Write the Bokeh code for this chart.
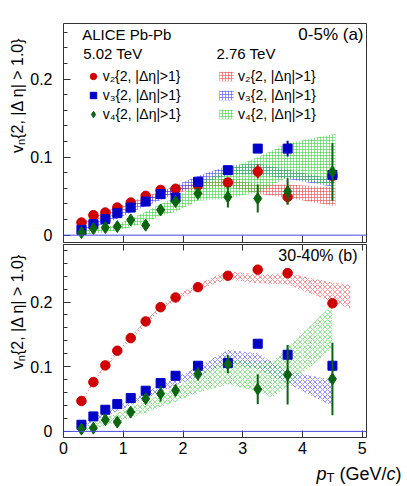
import math
from bokeh.plotting import figure
from bokeh.models import Range1d, FixedTicker, LinearAxis, Label, Legend, LegendItem, Span
from bokeh.layouts import column, row
from bokeh.embed import file_html
from bokeh.resources import INLINE

# ---------------- data ----------------
pt = [0.3, 0.5, 0.7, 0.9, 1.125, 1.375, 1.625, 1.875, 2.25, 2.75, 3.25, 3.75, 4.5]

# panel (a): 0-5 %, Pb-Pb 5.02 TeV
v2_a = [0.0162, 0.0256, 0.029, 0.0354, 0.0418, 0.0504, 0.058, 0.0595, 0.064, 0.0675, 0.0816, 0.049, 0.076]
v2_a_err = [0.001, 0.001, 0.001, 0.001, 0.001, 0.001, 0.001, 0.001, 0.002, 0.003, 0.009, 0.009, 0.010]
v3_a = [0.0068, 0.0141, 0.0205, 0.0282, 0.0354, 0.0431, 0.0526, 0.0482, 0.0685, 0.0833, 0.111, 0.111, 0.0773]
v3_a_err = [0.001, 0.001, 0.001, 0.001, 0.001, 0.001, 0.001, 0.002, 0.002, 0.005, 0.004, 0.010, 0.006]
v4_a = [0.0033, 0.0085, 0.0098, 0.011, 0.0196, 0.0128, 0.0324, 0.0431, 0.0534, 0.049, 0.047, 0.056, 0.081]
v4_a_err = [0.002, 0.002, 0.002, 0.002, 0.003, 0.003, 0.004, 0.005, 0.006, 0.0135, 0.018, 0.017, 0.037]

# panel (a): 2.76 TeV bands
band_a_x = [0.3, 0.5, 0.7, 0.9, 1.125, 1.375, 1.625, 1.875, 2.25, 2.75, 3.25, 3.75, 4.55]
band_a_x3 = [0.3, 0.5, 0.7, 0.9, 1.125, 1.375, 1.625, 1.875, 2.25, 2.75, 3.25, 3.75, 4.5]
v2_a_lo = [0.011, 0.018, 0.023, 0.029, 0.035, 0.042, 0.048, 0.054, 0.059, 0.063, 0.053, 0.048, 0.037]
v2_a_hi = [0.017, 0.024, 0.030, 0.036, 0.043, 0.050, 0.056, 0.062, 0.067, 0.073, 0.065, 0.065, 0.061]
v3_a_lo = [0.004, 0.009, 0.015, 0.021, 0.029, 0.037, 0.045, 0.054, 0.064, 0.077, 0.078, 0.072, 0.062]
v3_a_hi = [0.010, 0.016, 0.022, 0.029, 0.037, 0.046, 0.055, 0.064, 0.076, 0.089, 0.092, 0.084, 0.072]
v4_a_lo = [0.000, 0.002, 0.004, 0.006, 0.010, 0.016, 0.025, 0.030, 0.044, 0.047, 0.055, 0.074, 0.063]
v4_a_hi = [0.005, 0.008, 0.010, 0.014, 0.021, 0.030, 0.040, 0.048, 0.066, 0.085, 0.100, 0.118, 0.130]

# panel (b): 30-40 %, Pb-Pb 5.02 TeV
v2_b = [0.0470, 0.0762, 0.102, 0.1247, 0.1442, 0.170, 0.192, 0.207, 0.223, 0.2406, 0.250, 0.2447, 0.198]
v2_b_err = [0.001, 0.001, 0.001, 0.001, 0.001, 0.001, 0.001, 0.001, 0.002, 0.002, 0.003, 0.008, 0.005]
v3_b = [0.0103, 0.0232, 0.0335, 0.0422, 0.0515, 0.0629, 0.0747, 0.086, 0.1015, 0.1056, 0.1355, 0.1185, 0.1015]
v3_b_err = [0.001, 0.001, 0.001, 0.001, 0.001, 0.001, 0.002, 0.002, 0.002, 0.004, 0.005, 0.008, 0.008]
v4_b = [0.0036, 0.0051, 0.018, 0.0144, 0.0299, 0.0505, 0.0582, 0.0634, 0.0886, 0.104, 0.0654, 0.0876, 0.081]
v4_b_err = [0.003, 0.003, 0.004, 0.004, 0.005, 0.006, 0.012, 0.009, 0.010, 0.014, 0.023, 0.046, 0.056]

# panel (b): 2.76 TeV bands
band_b_x2 = [0.3, 0.5, 0.7, 0.9, 1.125, 1.375, 1.625, 1.875, 2.25, 2.75, 3.25, 3.75, 4.5, 4.8]
v2_b_lo = [0.044, 0.073, 0.098, 0.120, 0.140, 0.165, 0.187, 0.202, 0.219, 0.235, 0.229, 0.227, 0.200, 0.190]
v2_b_hi = [0.049, 0.078, 0.104, 0.126, 0.146, 0.172, 0.194, 0.210, 0.228, 0.248, 0.242, 0.245, 0.230, 0.227]
band_b_x3 = [0.3, 0.5, 0.7, 0.9, 1.125, 1.375, 1.625, 1.875, 2.25, 2.75, 3.25, 3.75, 4.5]
v3_b_lo = [0.006, 0.015, 0.024, 0.031, 0.040, 0.051, 0.061, 0.071, 0.085, 0.105, 0.097, 0.074, 0.039]
v3_b_hi = [0.012, 0.021, 0.031, 0.039, 0.049, 0.061, 0.072, 0.083, 0.100, 0.126, 0.121, 0.093, 0.080]
band_b_x4 = [0.3, 0.5, 0.7, 0.9, 1.125, 1.375, 1.625, 1.875, 2.25, 2.75, 3.25, 3.5, 4.5]
v4_b_lo = [0.000, 0.003, 0.009, 0.014, 0.021, 0.029, 0.038, 0.046, 0.060, 0.072, 0.062, 0.052, 0.128]
v4_b_hi = [0.006, 0.013, 0.021, 0.028, 0.038, 0.047, 0.057, 0.067, 0.088, 0.112, 0.106, 0.108, 0.196]

x_ticks = [0, 1, 2, 3, 4, 5]
y_ticks = [0, 0.1, 0.2]
y_tick_labels = {0: "0", 0.1: "0.1", 0.2: "0.2"}
y_minor = [0.02, 0.04, 0.06, 0.08, 0.12, 0.14, 0.16, 0.18, 0.22, 0.24, 0.26, 0.28]

leg_labels = ["v\u2082{2, |\u0394\u03b7|>1}", "v\u2083{2, |\u0394\u03b7|>1}", "v\u2084{2, |\u0394\u03b7|>1}"]

# ---------------- styling / layout constants ----------------
FONT = "Liberation Sans"
RED, BLUE, GREEN = "#d10000", "#0000c8", "#0a6410"
HRED, HBLUE, HGREEN = "#e83a3a", "#3a3aff", "#2fcf2f"
YLAB_W = 27          # width of the strip holding the rotated y titles
FRAME_L = 62         # page x of the frame's left edge
TOTAL_H = 486        # page height used
A_TOP, A_FRAME, A_BOT = 23, 219, 2
B_TOP, B_FRAME, B_BOT = 0, 193, 24


def make_panel(frame_h, y_end, b_top, b_bottom, top_axis, bottom_labels):
    p = figure(frame_width=303, frame_height=frame_h,
               x_range=Range1d(0, 5.07), y_range=Range1d(-0.0094, y_end),
               output_backend="svg", toolbar_location=None,
               x_axis_location=None, y_axis_location=None,
               min_border_left=FRAME_L - YLAB_W, min_border_right=40,
               min_border_top=b_top, min_border_bottom=b_bottom)
    p.grid.visible = False
    p.outline_line_color = "#333333"
    p.outline_line_width = 1
    p.background_fill_color = "white"
    p.border_fill_color = "white"

    yax = LinearAxis(ticker=FixedTicker(ticks=y_ticks, minor_ticks=y_minor),
                     major_label_overrides=y_tick_labels)
    yax.axis_line_color = None
    yax.major_tick_in = 7
    yax.major_tick_out = 0
    yax.minor_tick_in = 4
    yax.minor_tick_out = 0
    yax.major_tick_line_color = "#333333"
    yax.minor_tick_line_color = "#333333"
    yax.major_label_text_font = FONT
    yax.major_label_text_font_size = "16px"
    yax.major_label_text_color = "black"
    yax.major_label_standoff = 11
    p.add_layout(yax, "left")

    xax = LinearAxis(ticker=FixedTicker(ticks=x_ticks))
    xax.axis_line_color = None
    xax.major_tick_in = 7
    xax.major_tick_out = 0
    xax.minor_tick_in = 0
    xax.minor_tick_out = 0
    xax.major_tick_line_color = "#333333"
    xax.major_label_text_font = FONT
    if bottom_labels:
        xax.major_label_text_font_size = "16px"
        xax.major_label_text_color = "black"
        xax.major_label_standoff = 4
    else:
        xax.major_label_text_color = None
        xax.major_label_standoff = 0
    p.add_layout(xax, "below")

    if top_axis:
        xat = LinearAxis(ticker=FixedTicker(ticks=x_ticks))
        xat.axis_line_color = None
        xat.major_tick_in = 6
        xat.major_tick_out = 0
        xat.minor_tick_in = 0
        xat.minor_tick_out = 0
        xat.major_tick_line_color = "#333333"
        xat.major_label_text_color = None
        xat.major_label_standoff = 0
        p.add_layout(xat, "above")

    p.add_layout(Span(location=0, dimension="width", line_color="#4a4ae0", line_width=1))
    return p


def strip(width, height):
    s = figure(frame_width=width, frame_height=height, x_range=Range1d(0, 1), y_range=Range1d(0, 1),
               output_backend="svg", toolbar_location=None,
               x_axis_location=None, y_axis_location=None,
               min_border_left=0, min_border_right=0, min_border_top=0, min_border_bottom=0)
    s.grid.visible = False
    s.outline_line_color = None
    s.background_fill_color = "white"
    s.border_fill_color = "white"
    return s


def bands(p, specs, pattern, scale):
    rs = []
    for x, lo, hi, col in specs:
        r = p.varea(x=x, y1=lo, y2=hi, fill_color=None, fill_alpha=0,
                    hatch_pattern=pattern, hatch_color=col, hatch_alpha=0.55,
                    hatch_scale=scale, hatch_weight=1)
        rs.append(r)
    return rs


def points(p, specs):
    rs = []
    for y, err, marker, size, col in specs:
        lo = [a - e for a, e in zip(y, err)]
        hi = [a + e for a, e in zip(y, err)]
        p.segment(x0=pt, y0=lo, x1=pt, y1=hi, line_color=col, line_width=2)
        r = p.scatter(x=pt, y=y, marker=marker, size=size, fill_color=col, line_color=col)
        rs.append(r)
    return rs


def lab(p, x0, y0, text, xr, yr, size, align="left", baseline="middle", angle=0.0, style="normal"):
    # (x0, y0): page position of the bottom-left corner of the figure's frame
    p.add_layout(Label(x=xr - x0, y=y0 - yr, x_units="screen", y_units="screen",
                       text=text, text_font=FONT, text_font_size=f"{size}px",
                       text_align=align, text_baseline=baseline, angle=angle,
                       text_font_style=style, text_color="black"))


def legend(p, renderers, labels, vx, vy, gw, gh, standoff):
    items = [LegendItem(label=t, renderers=[r]) for t, r in zip(labels, renderers)]
    leg = Legend(items=items, location=(vx, vy), orientation="vertical",
                 background_fill_alpha=0, border_line_alpha=0, padding=0, margin=0,
                 spacing=3, glyph_width=gw, glyph_height=gh, label_height=16,
                 label_standoff=standoff, label_text_font=FONT, label_text_font_size="14px",
                 label_text_baseline="middle", label_text_color="black")
    p.add_layout(leg)


# ---------------- panel (a) ----------------
FB_A = A_TOP + A_FRAME
pa = make_panel(A_FRAME, 0.2714, A_TOP, A_BOT, top_axis=False, bottom_labels=False)
ba = bands(pa, [(band_a_x, v2_a_lo, v2_a_hi, HRED), (band_a_x3, v3_a_lo, v3_a_hi, HBLUE),
                (band_a_x, v4_a_lo, v4_a_hi, HGREEN)], "+", 3)
ra = points(pa, [(v2_a, v2_a_err, "circle", 9.5, RED), (v3_a, v3_a_err, "square", 9, BLUE),
                 (v4_a, v4_a_err, "diamond", 12, GREEN)])
lab(pa, FRAME_L, FB_A, "ALICE Pb-Pb", 80.7, 33.5, 15)
lab(pa, FRAME_L, FB_A, "0-5% (a)", 362, 33.5, 17, align="right")
lab(pa, FRAME_L, FB_A, "5.02 TeV", 81.7, 52.5, 15)
lab(pa, FRAME_L, FB_A, "2.76 TeV", 215, 52.5, 15)
legend(pa, ra, leg_labels, 82.7 - FRAME_L, FB_A - 122, 18, 16, 1)
legend(pa, ba, leg_labels, 216 - FRAME_L, FB_A - 122, 18, 12, 3)

# ---------------- panel (b) ----------------
FB_B = A_TOP + A_FRAME + A_BOT + B_TOP + B_FRAME
pb = make_panel(B_FRAME, 0.2889, B_TOP, B_BOT, top_axis=True, bottom_labels=True)
bands(pb, [(band_b_x2, v2_b_lo, v2_b_hi, HRED), (band_b_x3, v3_b_lo, v3_b_hi, HBLUE),
           (band_b_x4, v4_b_lo, v4_b_hi, HGREEN)], "x", 5)
points(pb, [(v2_b, v2_b_err, "circle", 9.5, RED), (v3_b, v3_b_err, "square", 9, BLUE),
            (v4_b, v4_b_err, "diamond", 12, GREEN)])
lab(pb, FRAME_L, FB_B, "30-40% (b)", 356, 255, 16, align="right")

# ---------------- x title strip: p_T (GeV/c) ----------------
XLAB_H = TOTAL_H - (A_TOP + A_FRAME + A_BOT) - (B_TOP + B_FRAME + B_BOT)
xs = strip(FRAME_L - YLAB_W + 303 + 40, XLAB_H)
lab(xs, YLAB_W, TOTAL_H, "p", 280, 473, 18, baseline="alphabetic", style="italic")
lab(xs, YLAB_W, TOTAL_H, "T", 290, 477, 13, baseline="alphabetic")
lab(xs, YLAB_W, TOTAL_H, "(GeV/", 303, 473, 18, baseline="alphabetic")
lab(xs, YLAB_W, TOTAL_H, "c", 350, 473, 18, baseline="alphabetic", style="italic")
lab(xs, YLAB_W, TOTAL_H, ")", 359, 473, 18, baseline="alphabetic")

# ---------------- y title strip: v_n{2, |Δ η| > 1.0} (two panels) ----------------
ys = strip(YLAB_W, TOTAL_H)
FS, FSUB = 16, 11
W_MAIN = 6.332 * FS
W_N = 0.556 * FSUB
for y_top in (37.0, 253.3):
    lab(ys, 0, TOTAL_H, "{2, |\u0394 \u03b7| > 1.0}", 16.5, y_top, FS, align="right",
        baseline="alphabetic", angle=math.pi / 2)
    lab(ys, 0, TOTAL_H, "n", 20.0, y_top + W_MAIN, FSUB, align="right",
        baseline="alphabetic", angle=math.pi / 2)
    lab(ys, 0, TOTAL_H, "v", 16.5, y_top + W_MAIN + W_N, FS, align="right",
        baseline="alphabetic", angle=math.pi / 2)

layout = row(ys, column(pa, pb, xs, spacing=0), spacing=0)
open("out.html", "w").write(file_html(layout, INLINE))
